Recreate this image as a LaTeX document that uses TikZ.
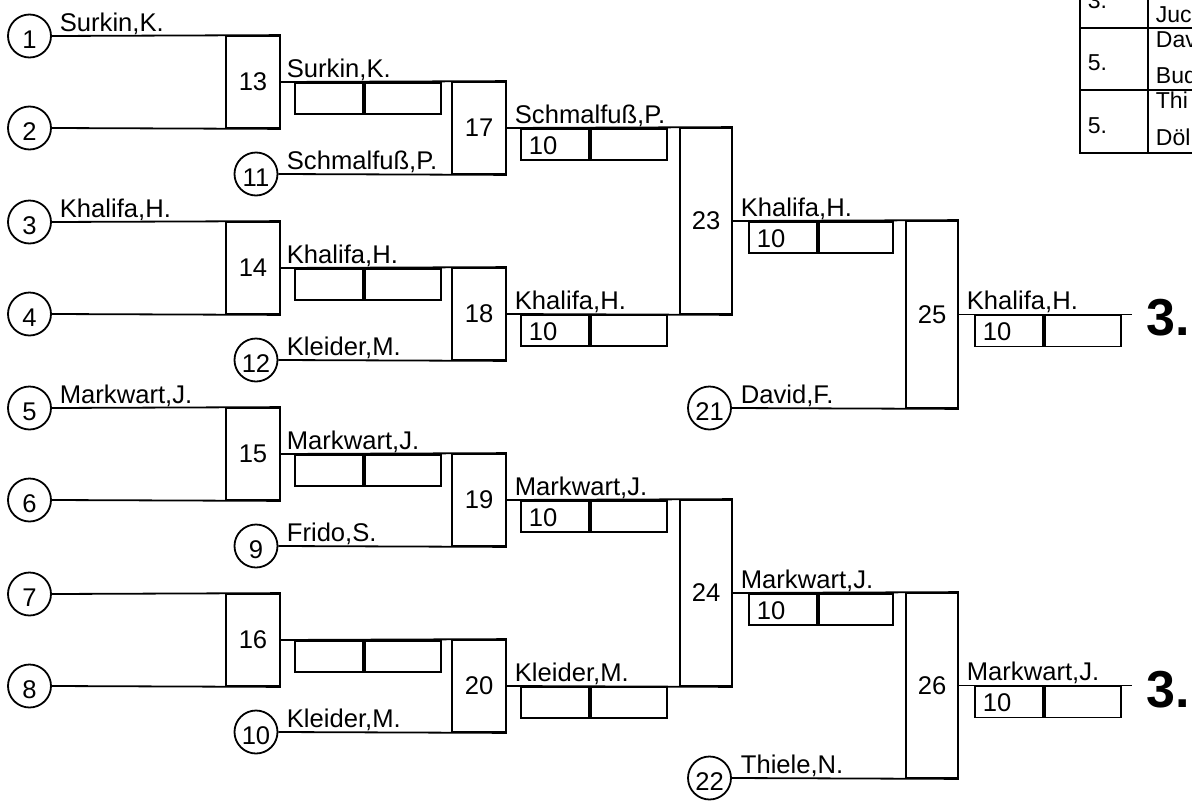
\documentclass[tikz,border=0pt]{standalone}
\usepackage{fontspec}
\setmainfont{Liberation Sans}
\begin{document}
\begin{tikzpicture}[x=1pt,y=-1pt,line width=1.8pt,
  pcirc/.style={circle,draw,inner sep=0pt,minimum size=43pt,font=\fontsize{25.6}{28}\selectfont,text height=24pt,text depth=0pt},
  mbox/.style={rectangle,draw,inner sep=0pt,minimum width=54pt,minimum height=92pt,font=\fontsize{25.6}{28}\selectfont},
  fbox/.style={rectangle,draw,inner sep=0pt,minimum width=52pt,font=\fontsize{25.6}{28}\selectfont},
  cella/.style={rectangle,draw,inner sep=0pt,minimum height=31pt,minimum width=68pt,anchor=north west},
  cellb/.style={rectangle,draw,inner sep=0pt,minimum height=31pt,minimum width=76pt,anchor=north west},
  nm/.style={inner sep=0pt,anchor=base west,font=\fontsize{25.6}{28}\selectfont},
  tb/.style={inner sep=0pt,anchor=base west,font=\fontsize{23}{26}\selectfont},
  big/.style={inner sep=0pt,anchor=base west,font=\fontsize{52}{56}\selectfont\bfseries},
  tline/.style={line width=2.4pt}]
\useasboundingbox (0,0) rectangle (1192,809);

% player circles
\node[pcirc] (p1) at (29.5,36) {1};
\node[pcirc] (p2) at (29.5,128) {2};
\node[pcirc] (p3) at (29.5,222) {3};
\node[pcirc] (p4) at (29.5,314) {4};
\node[pcirc] (p5) at (29.5,408) {5};
\node[pcirc] (p6) at (29.5,500) {6};
\node[pcirc] (p7) at (29.5,594) {7};
\node[pcirc] (p8) at (29.5,686) {8};
\node[pcirc] (p11) at (256,174) {11};
\node[pcirc] (p12) at (256,360) {12};
\node[pcirc] (p9) at (256,546) {9};
\node[pcirc] (p10) at (256,732) {10};
\node[pcirc] (p21) at (709.5,408) {21};
\node[pcirc] (p22) at (709.5,778) {22};

% match boxes
\node[mbox] (m13) at (253,82) {13};
\node[mbox] (m14) at (253,268) {14};
\node[mbox] (m15) at (253,454) {15};
\node[mbox] (m16) at (253,640) {16};
\node[mbox] (m17) at (479,128) {17};
\node[mbox] (m18) at (479,314) {18};
\node[mbox] (m19) at (479,500) {19};
\node[mbox] (m20) at (479,686) {20};
\node[fbox,minimum height=186pt] (m23) at (706,221) {23};
\node[fbox,minimum height=186pt] (m24) at (706,593) {24};
\node[fbox,minimum height=187pt] (m25) at (932,314.5) {25};
\node[fbox,minimum height=185pt] (m26) at (932,685.5) {26};
\coordinate (e25) at (1132,314.5);
\coordinate (e26) at (1132,685.5);

% connectors
\draw (p1.east) -- (m13.north east);
\draw (p2.east) -- (m13.south east);
\draw (p3.east) -- (m14.north east);
\draw (p4.east) -- (m14.south east);
\draw (p5.east) -- (m15.north east);
\draw (p6.east) -- (m15.south east);
\draw (p7.east) -- (m16.north east);
\draw (p8.east) -- (m16.south east);
\draw (m13.east) -- (m17.north east);
\draw (p11.east) -- (m17.south east);
\draw (m14.east) -- (m18.north east);
\draw (p12.east) -- (m18.south east);
\draw (m15.east) -- (m19.north east);
\draw (p9.east) -- (m19.south east);
\draw (m16.east) -- (m20.north east);
\draw (p10.east) -- (m20.south east);
\draw (m17.east) -- (m23.north east);
\draw (m18.east) -- (m23.south east);
\draw (m19.east) -- (m24.north east);
\draw (m20.east) -- (m24.south east);
\draw (m23.east) -- (m25.north east);
\draw (p21.east) -- (m25.south east);
\draw (m24.east) -- (m26.north east);
\draw (p22.east) -- (m26.south east);
\draw (m25.east) -- (e25);
\draw (m26.east) -- (e26);

% score cells
\node[cella] (s13a) at (294,82) {};  \node[cellb] (s13b) at (s13a.north east) {};
\node[cella] (s14a) at (294,268) {}; \node[cellb] (s14b) at (s14a.north east) {};
\node[cella] (s15a) at (294,454) {}; \node[cellb] (s15b) at (s15a.north east) {};
\node[cella] (s16a) at (294,640) {}; \node[cellb] (s16b) at (s16a.north east) {};
\node[cella] (s17a) at (520,128) {}; \node[cellb] (s17b) at (s17a.north east) {};
\node[cella] (s18a) at (520,314) {}; \node[cellb] (s18b) at (s18a.north east) {};
\node[cella] (s19a) at (520,500) {}; \node[cellb] (s19b) at (s19a.north east) {};
\node[cella] (s20a) at (520,686) {}; \node[cellb] (s20b) at (s20a.north east) {};
\node[cella] (s23a) at (748,221) {}; \node[cellb,minimum width=74pt] (s23b) at (s23a.north east) {};
\node[cella] (s24a) at (748,593) {}; \node[cellb,minimum width=74pt] (s24b) at (s24a.north east) {};
\node[cella] (s25a) at (974,314.5) {}; \node[cellb] (s25b) at (s25a.north east) {};
\node[cella] (s26a) at (974,685.5) {}; \node[cellb] (s26b) at (s26a.north east) {};

\foreach \c in {s17a,s18a,s19a,s23a,s24a,s25a,s26a}
  \node[nm] at ([xshift=8pt,yshift=-26pt]\c.north west) {10};

% names
\node[nm] at (59,31) {Surkin,K.};
\node[nm] at (59,217) {Khalifa,H.};
\node[nm] at (59,403) {Markwart,J.};
\node[nm] at (286,77) {Surkin,K.};
\node[nm] at (286,169) {Schmalfuß,P.};
\node[nm] at (286,263) {Khalifa,H.};
\node[nm] at (286,355) {Kleider,M.};
\node[nm] at (286,449) {Markwart,J.};
\node[nm] at (286,541) {Frido,S.};
\node[nm] at (286,727) {Kleider,M.};
\node[nm] at (514,123) {Schmalfuß,P.};
\node[nm] at (514,309) {Khalifa,H.};
\node[nm] at (514,495) {Markwart,J.};
\node[nm] at (514,681) {Kleider,M.};
\node[nm] at (740,216) {Khalifa,H.};
\node[nm] at (740,403) {David,F.};
\node[nm] at (740,588) {Markwart,J.};
\node[nm] at (740,773) {Thiele,N.};
\node[nm] at (966,309.5) {Khalifa,H.};
\node[nm] at (966,680.5) {Markwart,J.};

% places
\node[big] (r25) at (1146,335) {3.};
\node[big] (r26) at (1146,707) {3.};

% result table
\draw[tline] (1080,-5) -- (1080,153) -- (1200,153);
\draw[tline] (1080,28) -- (1200,28);
\draw[tline] (1080,90) -- (1200,90);
\draw[tline] (1148,-5) -- (1148,153);
\node[tb] at (1087,8) {3.};
\node[tb] at (1087,70) {5.};
\node[tb] at (1087,133) {5.};
\node[tb] at (1155,22) {Juc};
\node[tb] at (1155,47) {Dav};
\node[tb] at (1155,83) {Bud};
\node[tb] at (1155,108) {Thi};
\node[tb] at (1155,145) {Döl};
\end{tikzpicture}
\end{document}
